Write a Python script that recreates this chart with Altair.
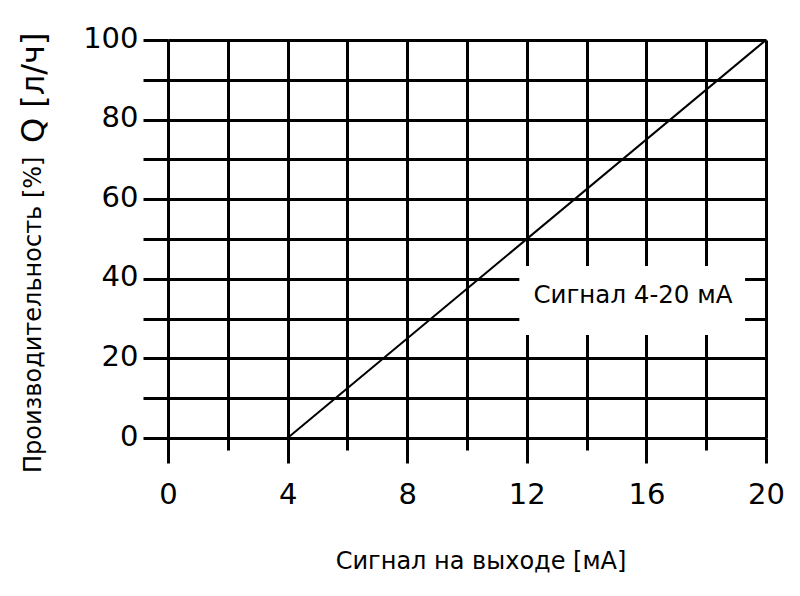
import altair as alt
import pandas as pd

# ---- data ----
signal_ma = [4, 20]          # output signal, mA
output_pct = [0, 100]        # capacity, %
x_major = [0, 4, 8, 12, 16, 20]
x_minor = [2, 6, 10, 14, 18]
y_ticks = [0, 10, 20, 30, 40, 50, 60, 70, 80, 90, 100]
label_text = "Сигнал 4-20 мА"
x_title = "Сигнал на выходе [мА]"
y_title_small = "Производительность [%]"
y_title_big = "Q [л/ч]"

FONT = "DejaVu Sans"
W, H = 598, 398

line_df = pd.DataFrame({"signal": signal_ma, "pct": output_pct})

xs = alt.Scale(domain=[0, 20], nice=False, zero=False)
ys = alt.Scale(domain=[0, 100], nice=False, zero=False)

common = dict(domain=False, grid=True, gridColor="black", gridWidth=3, gridOpacity=1,
              tickColor="black", tickWidth=3, tickOpacity=1, title=None,
              labelFont=FONT, labelFontSize=29, labelColor="black")

x_axis_major = alt.Axis(values=x_major, orient="bottom", tickSize=25, labelPadding=17,
                        labelFlush=False, **common)
x_axis_minor = alt.Axis(values=x_minor, orient="bottom", tickSize=12, labels=False, **common)
y_axis = alt.Axis(values=y_ticks, orient="left", tickSize=25, labelPadding=5, labelOffset=-2,
                  labelExpr="datum.value % 20 == 0 ? datum.label : ''", labelFlush=False, **common)

line = alt.Chart(line_df).mark_line(color="black", strokeWidth=2).encode(
    x=alt.X("signal:Q", scale=xs, axis=x_axis_major),
    y=alt.Y("pct:Q", scale=ys, axis=y_axis),
)

minor = alt.Chart(line_df).mark_point(opacity=0).encode(
    x=alt.X("signal:Q", scale=xs, axis=x_axis_minor),
    y=alt.Y("pct:Q", scale=ys, axis=y_axis),
)

# label box over the grid
box_df = pd.DataFrame({"x1": [11.75], "x2": [19.3], "y1": [25.9], "y2": [43.2],
                       "xm": [15.55], "ym": [35.6], "t": [label_text]})
box = alt.Chart(box_df).mark_rect(color="white").encode(
    x=alt.X("x1:Q", scale=xs, axis=None), x2="x2:Q",
    y=alt.Y("y1:Q", scale=ys, axis=y_axis), y2="y2:Q",
)
box_text = alt.Chart(box_df).mark_text(font=FONT, fontSize=24.5, color="black",
                                       align="center", baseline="middle").encode(
    x=alt.X("xm:Q", scale=xs, axis=None),
    y=alt.Y("ym:Q", scale=ys, axis=y_axis),
    text="t:N",
)

title_df = pd.DataFrame({"a": [y_title_small], "b": [y_title_big], "c": [x_title]})
yt1 = alt.Chart(title_df).mark_text(font=FONT, fontSize=24, color="black", angle=270,
                                    align="left", baseline="middle").encode(
    x=alt.value(-134), y=alt.value(433), text="a:N")
yt2 = alt.Chart(title_df).mark_text(font=FONT, fontSize=32, color="black", angle=270,
                                    align="left", baseline="middle").encode(
    x=alt.value(-134), y=alt.value(103), text="b:N")
xt = alt.Chart(title_df).mark_text(font=FONT, fontSize=24, color="black",
                                   align="center", baseline="middle").encode(
    x=alt.value(313), y=alt.value(522), text="c:N")

chart = alt.layer(line, minor, box, box_text, yt1, yt2, xt).resolve_axis(x="independent").properties(
    width=W, height=H,
    padding={"left": 160, "top": 32, "right": 26, "bottom": 140},
    autosize=alt.AutoSizeParams(type="none"),
    background="white",
).configure_view(strokeWidth=0)

chart.save("out.html", embed_options={"renderer": "svg", "actions": False})
